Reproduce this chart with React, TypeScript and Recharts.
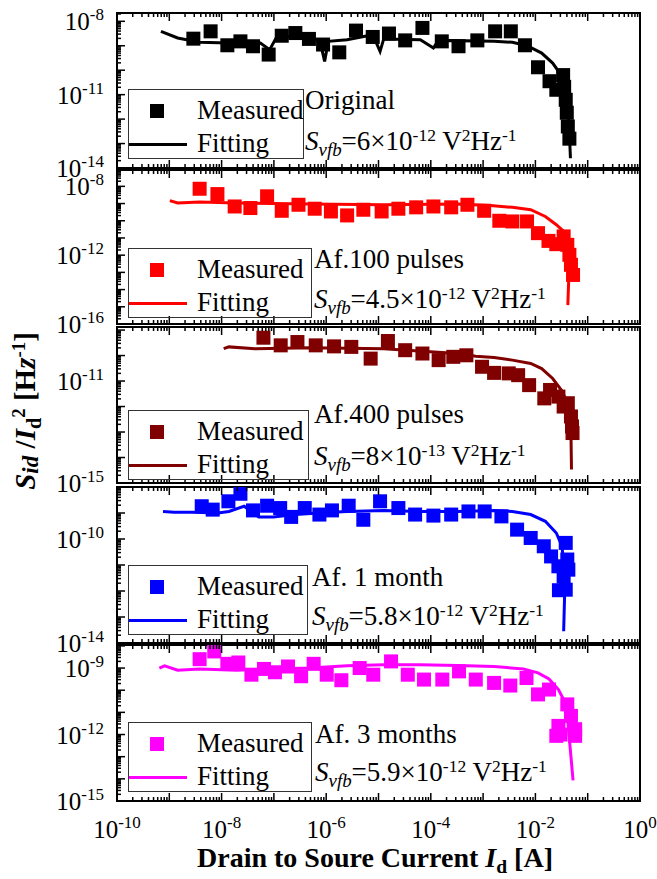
import React from 'react'
import { ComposedChart, Scatter, Line, XAxis, YAxis, ReferenceArea } from 'recharts'

const FONT = '"Liberation Serif", "Times New Roman", serif'

// all values are log10: x = log10(Id [A]), y = log10(Sid/Id^2 [Hz^-1])
const xMajorTicks = [-10, -9, -8, -7, -6, -5, -4, -3, -2, -1, 0]
const xLabelTicks = [-10, -8, -6, -4, -2, 0]

// Original
const origMeasX = [-8.54, -8.21, -7.89, -7.64, -7.4, -7.1, -6.85, -6.59, -6.33, -6.06, -5.75, -5.43, -5.11, -4.8, -4.49, -4.16, -3.79, -3.47, -3.11, -2.77, -2.47, -2.2, -1.95, -1.73, -1.6, -1.47, -1.45, -1.42, -1.4, -1.38, -1.35]
const origMeasY = [-8.71, -8.41, -8.98, -8.82, -9.02, -9.36, -8.59, -8.48, -8.72, -8.95, -9.27, -8.38, -8.64, -8.5, -8.78, -8.27, -8.82, -9.02, -8.78, -8.41, -8.41, -8.98, -9.88, -10.45, -10.8, -10.2, -10.68, -11.21, -11.74, -12.3, -12.8]
const origFitX = [-9.16, -8.84, -8.42, -7.86, -7.26, -7.08, -6.94, -6.31, -6.12, -6.03, -5.96, -5.6, -5.11, -4.97, -4.9, -4.2, -3.95, -3.85, -2.79, -2.44, -2.16, -1.88, -1.67, -1.49, -1.39, -1.35, -1.33]
const origFitY = [-8.41, -8.68, -8.86, -8.89, -8.89, -9.16, -8.61, -8.64, -8.8, -9.64, -8.82, -8.75, -8.55, -9.23, -8.72, -8.75, -9.09, -8.78, -8.82, -8.86, -9.0, -9.3, -9.71, -10.25, -11.2, -12.57, -13.6]

// After 100 pulses
const p100MeasX = [-8.42, -8.08, -7.75, -7.45, -7.13, -6.85, -6.53, -6.22, -5.91, -5.6, -5.29, -4.94, -4.62, -4.28, -3.95, -3.61, -3.3, -2.98, -2.69, -2.44, -2.16, -1.95, -1.75, -1.6, -1.46, -1.39, -1.35, -1.32, -1.28]
const p100MeasY = [-8.14, -8.45, -9.17, -9.26, -8.58, -9.42, -9.07, -9.3, -9.46, -9.69, -9.36, -9.46, -9.3, -9.22, -9.17, -9.22, -9.07, -9.42, -10.0, -10.04, -10.04, -10.72, -11.17, -11.36, -10.91, -11.4, -11.98, -12.56, -13.15]
const p100FitX = [-8.99, -8.84, -8.42, -7.71, -6.31, -4.9, -3.49, -2.86, -2.44, -2.09, -1.81, -1.6, -1.46, -1.39, -1.36, -1.38]
const p100FitY = [-8.83, -8.97, -8.91, -8.97, -9.03, -9.07, -9.03, -9.11, -9.22, -9.36, -9.75, -10.23, -10.62, -11.4, -13.15, -14.9]

// After 400 pulses
const p400MeasX = [-7.2, -6.87, -6.55, -6.2, -5.85, -5.52, -5.15, -4.82, -4.49, -4.16, -3.85, -3.57, -3.32, -3.02, -2.79, -2.51, -2.33, -2.12, -1.83, -1.72, -1.56, -1.46, -1.38, -1.32, -1.3, -1.29]
const p400MeasY = [-9.3, -9.6, -9.47, -9.6, -9.64, -9.66, -10.12, -9.43, -9.79, -9.92, -10.18, -10.05, -9.99, -10.44, -10.68, -10.7, -10.77, -11.16, -11.68, -11.35, -11.61, -12.0, -11.87, -12.39, -12.78, -13.04]
const p400FitX = [-7.96, -7.86, -7.36, -6.31, -4.9, -3.49, -3.14, -2.79, -2.44, -2.09, -1.88, -1.67, -1.48, -1.37, -1.32, -1.31]
const p400FitY = [-9.73, -9.66, -9.73, -9.69, -9.73, -9.92, -10.03, -10.08, -10.18, -10.31, -10.51, -10.9, -11.42, -12.0, -13.04, -14.47]

// After 1 month
const m1MeasX = [-8.38, -8.17, -7.87, -7.64, -7.4, -7.13, -6.88, -6.67, -6.41, -6.13, -5.89, -5.57, -5.29, -4.97, -4.62, -4.3, -3.95, -3.61, -3.28, -2.97, -2.65, -2.35, -2.09, -1.84, -1.7, -1.56, -1.46, -1.42, -1.39, -1.37, -1.55, -1.42]
const m1MeasY = [-8.74, -8.87, -8.55, -8.26, -8.9, -8.72, -8.81, -9.15, -8.81, -9.06, -8.9, -8.72, -9.26, -8.55, -8.81, -9.06, -9.1, -9.06, -8.94, -8.94, -9.13, -9.64, -9.96, -10.28, -10.67, -11.05, -11.44, -10.15, -10.79, -11.18, -11.97, -11.95]
const m1FitX = [-9.12, -8.91, -8.56, -8.07, -7.86, -7.57, -7.29, -7.01, -6.59, -6.17, -5.6, -4.9, -4.2, -3.49, -2.79, -2.44, -2.09, -1.81, -1.6, -1.49, -1.46, -1.44, -1.46]
const m1FitY = [-8.94, -8.97, -8.97, -9.0, -8.94, -8.74, -9.15, -9.15, -9.06, -9.0, -8.94, -8.9, -8.94, -8.94, -8.9, -8.94, -9.06, -9.32, -9.77, -10.28, -11.05, -12.08, -13.55]

// After 3 months
const m3MeasX = [-8.42, -8.14, -7.89, -7.68, -7.43, -7.19, -6.98, -6.73, -6.48, -6.24, -5.99, -5.71, -5.36, -5.1, -4.76, -4.44, -4.13, -3.78, -3.46, -3.14, -2.79, -2.48, -2.17, -1.95, -1.74, -1.39, -1.32, -1.56, -1.52, -1.6, -1.24, -1.24]
const m3MeasY = [-8.6, -8.25, -8.81, -8.75, -9.3, -9.04, -9.19, -8.93, -9.37, -8.81, -9.3, -9.55, -9.0, -9.3, -8.7, -9.3, -9.52, -9.52, -9.15, -9.52, -9.67, -9.79, -9.45, -10.19, -9.97, -10.64, -11.16, -11.61, -12.0, -12.06, -11.76, -12.06]
const m3FitX = [-9.19, -9.09, -8.84, -8.42, -7.71, -7.01, -6.31, -5.6, -4.9, -4.2, -3.49, -2.79, -2.23, -1.95, -1.74, -1.56, -1.46, -1.39, -1.35, -1.28]
const m3FitY = [-9.0, -8.9, -9.1, -9.04, -9.1, -9.04, -9.0, -8.9, -8.85, -8.85, -8.88, -8.93, -9.04, -9.22, -9.49, -9.97, -10.42, -11.16, -12.21, -14.07]

type Panel = {
  color: string
  top: number
  bottom: number
  yDomain: [number, number]
  yLabels: number[]
  measX: number[]
  measY: number[]
  fitX: number[]
  fitY: number[]
  title: string
  mant: string
  exp: string
  boxTop: number
  boxW: number
  titleY: number
  sY: number
  textLeft: number
}

const panels: Panel[] = [
  { color: '#000000', top: 13, bottom: 168, yDomain: [-14, -7.66], yLabels: [-8, -11, -14], measX: origMeasX, measY: origMeasY, fitX: origFitX, fitY: origFitY, title: 'Original', mant: '6', exp: '-12', boxTop: 89, boxW: 176, titleY: 101, sY: 142, textLeft: 305 },
  { color: '#ff0000', top: 170, bottom: 324, yDomain: [-16, -7.05], yLabels: [-8, -12, -16], measX: p100MeasX, measY: p100MeasY, fitX: p100FitX, fitY: p100FitY, title: 'Af.100 pulses', mant: '4.5', exp: '-12', boxTop: 248, boxW: 184, titleY: 260, sY: 300, textLeft: 314 },
  { color: '#800000', top: 327, bottom: 483, yDomain: [-15, -8.88], yLabels: [-11, -15], measX: p400MeasX, measY: p400MeasY, fitX: p400FitX, fitY: p400FitY, title: 'Af.400 pulses', mant: '8', exp: '-13', boxTop: 410, boxW: 181, titleY: 415, sY: 457, textLeft: 314 },
  { color: '#0000ff', top: 487, bottom: 643, yDomain: [-14, -8.0], yLabels: [-10, -14], measX: m1MeasX, measY: m1MeasY, fitX: m1FitX, fitY: m1FitY, title: 'Af. 1 month', mant: '5.8', exp: '-12', boxTop: 565, boxW: 180, titleY: 578, sY: 617, textLeft: 312 },
  { color: '#ff00ff', top: 645, bottom: 801, yDomain: [-15, -7.96], yLabels: [-9, -12, -15], measX: m3MeasX, measY: m3MeasY, fitX: m3FitX, fitY: m3FitY, title: 'Af. 3 months', mant: '5.9', exp: '-12', boxTop: 722, boxW: 184, titleY: 735, sY: 773, textLeft: 315 },
]

const logMinor = [2, 3, 4, 5, 6, 7, 8, 9].map((k) => Math.log10(k))

function decadeTicks(lo: number, hi: number) {
  const out: number[] = []
  for (let n = Math.floor(lo); n <= Math.ceil(hi); n++) {
    if (n >= lo - 1e-9 && n <= hi + 1e-9) out.push(n)
    for (const m of logMinor) {
      const v = n + m
      if (v > lo && v < hi) out.push(v)
    }
  }
  return out.sort((a, b) => a - b)
}

const isMajor = (v: number) => Math.abs(v - Math.round(v)) < 1e-6

const xTicks = decadeTicks(xMajorTicks[0], xMajorTicks[xMajorTicks.length - 1])

const renderXTick = (side: 'top' | 'bottom', labels: number[]) => (p: any) => {
  const { x, y, payload } = p
  const v = payload.value
  const major = isMajor(v)
  const len = major ? 8 : 4
  const dir = side === 'bottom' ? -1 : 1
  const showLabel = major && labels.includes(Math.round(v))
  return (
    <g>
      <line x1={x} y1={y} x2={x} y2={y + dir * len} stroke="#000" strokeWidth={1.5} />
      {showLabel && (
        <text x={x} y={y + 37} textAnchor="middle" fontFamily={FONT} fontSize={25} fill="#000">
          10<tspan dy={-10} fontSize={17}>{Math.round(v)}</tspan>
        </text>
      )}
    </g>
  )
}

const renderYTick = (labels: number[]) => (p: any) => {
  const { x, y, payload } = p
  const v = payload.value
  const major = isMajor(v)
  const len = major ? 8 : 4
  const showLabel = major && labels.includes(Math.round(v))
  return (
    <g>
      <line x1={x} y1={y} x2={x + len} y2={y} stroke="#000" strokeWidth={1.5} />
      {showLabel && (
        <text x={x - 13} y={y + 9} textAnchor="end" fontFamily={FONT} fontSize={25} fill="#000">
          10<tspan dy={-10} fontSize={17}>{Math.round(v)}</tspan>
        </text>
      )}
    </g>
  )
}

const squareShape = (color: string) => (p: any) => (
  <rect x={p.cx - 7} y={p.cy - 7} width={14} height={14} fill={color} />
)

const Sup = ({ children }: { children: React.ReactNode }) => (
  <span style={{ fontSize: '0.65em', position: 'relative', top: '-0.55em' }}>{children}</span>
)
const Sub = ({ children }: { children: React.ReactNode }) => (
  <span style={{ fontSize: '0.7em', position: 'relative', top: '0.3em' }}>{children}</span>
)

const TEXT_SIZE = 27

function PanelChart({ p, last }: { p: Panel; last: boolean }) {
  const bottomH = last ? 60 : 2
  const height = p.bottom - p.top + 2 + bottomH
  const meas = p.measX.map((x, i) => ({ x, y: p.measY[i] }))
  const fit = p.fitX.map((x, i) => ({ x, y: p.fitY[i] }))
  const yTicks = decadeTicks(p.yDomain[0], p.yDomain[1])
  return (
    <div style={{ position: 'absolute', left: 0, top: p.top - 2 }}>
      <ComposedChart width={657} height={height} margin={{ top: 0, right: 17, bottom: 0, left: 0 }}>
        <XAxis
          xAxisId="b"
          dataKey="x"
          type="number"
          domain={[-10, 0]}
          allowDataOverflow
          ticks={xTicks}
          interval={0}
          tickSize={0}
          tickMargin={0}
          axisLine={false}
          tickLine={false}
          height={bottomH}
          tick={renderXTick('bottom', last ? xLabelTicks : [])}
        />
        <XAxis
          xAxisId="t"
          orientation="top"
          dataKey="x"
          type="number"
          domain={[-10, 0]}
          allowDataOverflow
          ticks={xTicks}
          interval={0}
          tickSize={0}
          tickMargin={0}
          axisLine={false}
          tickLine={false}
          height={2}
          tick={renderXTick('top', [])}
        />
        <YAxis
          yAxisId="l"
          dataKey="y"
          type="number"
          domain={p.yDomain}
          allowDataOverflow
          ticks={yTicks}
          interval={0}
          tickSize={0}
          tickMargin={0}
          axisLine={false}
          tickLine={false}
          width={117}
          tick={renderYTick(p.yLabels)}
        />
        <Scatter
          xAxisId="b"
          yAxisId="l"
          data={meas}
          fill={p.color}
          shape={squareShape(p.color)}
          isAnimationActive={false}
        />
        <Line
          xAxisId="b"
          yAxisId="l"
          data={fit}
          dataKey="y"
          type="linear"
          stroke={p.color}
          strokeWidth={3}
          dot={false}
          activeDot={false}
          isAnimationActive={false}
        />
        <ReferenceArea
          xAxisId="b"
          yAxisId="l"
          x1={-10}
          x2={0}
          y1={p.yDomain[0]}
          y2={p.yDomain[1]}
          fill="none"
          stroke="#000"
          strokeWidth={2}
          ifOverflow="visible"
        />
      </ComposedChart>
    </div>
  )
}

function PanelText({ p }: { p: Panel }) {
  const row1 = 21
  const row2 = 54
  const textTop = (cy: number) => cy - 13.6
  return (
    <>
      <div
        style={{
          position: 'absolute',
          left: 128,
          top: p.boxTop,
          width: p.boxW,
          height: 70,
          border: '1.5px solid #333',
          boxSizing: 'border-box',
        }}
      >
        <div style={{ position: 'absolute', left: 21, top: row1 - 7, width: 14, height: 14, background: p.color }} />
        <div style={{ position: 'absolute', left: 68, top: textTop(row1), lineHeight: `${TEXT_SIZE}px`, whiteSpace: 'nowrap' }}>
          Measured
        </div>
        <div style={{ position: 'absolute', left: 0, top: row2 - 1.5, width: 58, height: 3, background: p.color }} />
        <div style={{ position: 'absolute', left: 68, top: textTop(row2), lineHeight: `${TEXT_SIZE}px`, whiteSpace: 'nowrap' }}>
          Fitting
        </div>
      </div>
      <div style={{ position: 'absolute', left: p.textLeft, top: textTop(p.titleY), lineHeight: `${TEXT_SIZE}px`, whiteSpace: 'nowrap' }}>
        {p.title}
      </div>
      <div style={{ position: 'absolute', left: p.textLeft, top: textTop(p.sY), lineHeight: `${TEXT_SIZE}px`, whiteSpace: 'nowrap' }}>
        <i>S</i>
        <Sub>
          <i>vfb</i>
        </Sub>
        ={p.mant}×10<Sup>{p.exp}</Sup> V<Sup>2</Sup>Hz<Sup>-1</Sup>
      </div>
    </>
  )
}

export default function App() {
  return (
    <div
      style={{
        position: 'absolute',
        left: 0,
        top: 0,
        width: 657,
        height: 879,
        background: '#fff',
        fontFamily: FONT,
        fontSize: TEXT_SIZE,
        color: '#000',
        overflow: 'hidden',
      }}
    >
      <style>{'.recharts-surface{overflow:visible}.recharts-wrapper{overflow:visible}'}</style>
      {panels.map((p, i) => (
        <PanelChart key={p.title} p={p} last={i === panels.length - 1} />
      ))}
      {panels.map((p) => (
        <PanelText key={p.title + '-t'} p={p} />
      ))}
      {/* y axis title */}
      <div
        style={{
          position: 'absolute',
          left: 25 - 150,
          top: 411 - 16,
          width: 300,
          height: 32,
          lineHeight: '32px',
          textAlign: 'center',
          transform: 'rotate(-90deg)',
          fontWeight: 'bold',
          fontSize: 29,
          whiteSpace: 'nowrap',
        }}
      >
        <i>S</i>
        <span style={{ fontSize: '0.8em', position: 'relative', top: '0.15em' }}>
          <i>id</i>
        </span>{' '}
        /<i>I</i>
        <Sub>d</Sub>
        <Sup>2</Sup> [H<i>z</i>
        <Sup>-1</Sup>]
      </div>
      {/* x axis title */}
      <div
        style={{
          position: 'absolute',
          left: 375 - 250,
          top: 844,
          width: 500,
          lineHeight: '28px',
          textAlign: 'center',
          fontWeight: 'bold',
          fontSize: 28,
          whiteSpace: 'nowrap',
        }}
      >
        Drain to Soure Current <i>I</i>
        <Sub>d</Sub> [A]
      </div>
    </div>
  )
}
